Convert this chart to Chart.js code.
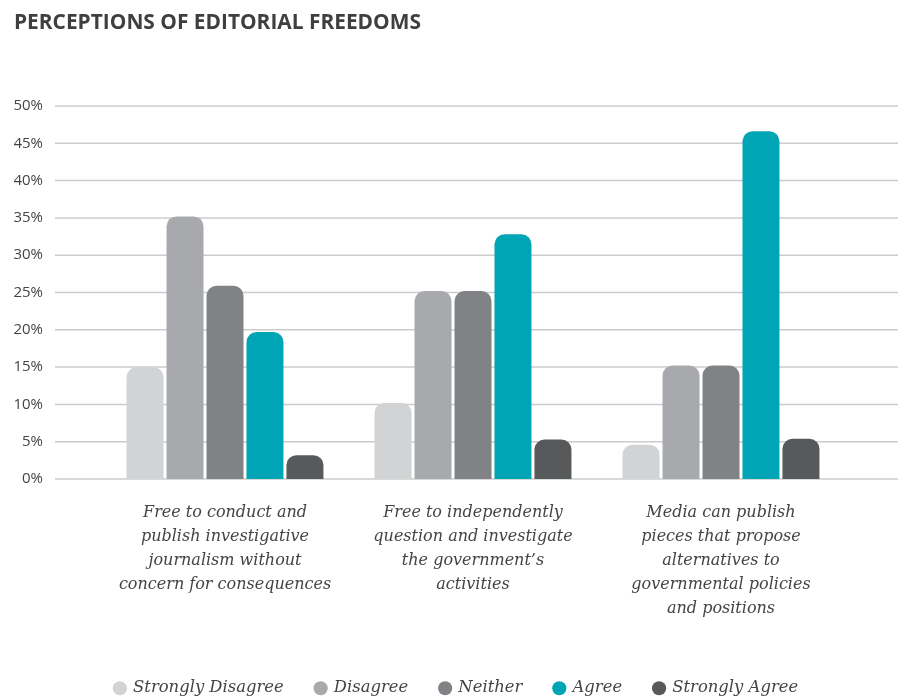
<!DOCTYPE html>
<html>
<head>
<meta charset="utf-8">
<script src="https://cdn.jsdelivr.net/npm/chart.js@4/dist/chart.umd.min.js"></script>
<style>
  html, body { margin: 0; padding: 0; background: #fff; }
  canvas { display: block; }
</style>
</head>
<body>
<canvas id="freedomChart" width="899" height="697"></canvas>
<script>
const categories = [
  ['Free to conduct and', 'publish investigative', 'journalism without', 'concern for consequences'],
  ['Free to independently', 'question and investigate', 'the government\u2019s', 'activities'],
  ['Media can publish', 'pieces that propose', 'alternatives to', 'governmental policies', 'and positions']
];
const seriesNames = ['Strongly Disagree', 'Disagree', 'Neither', 'Agree', 'Strongly Agree'];
const seriesColors = ['#d1d3d4', '#a7a9ac', '#808285', '#00a5b5', '#58595b'];

const stronglyDisagree = [15, 10.2, 4.6];
const disagree = [35.2, 25.2, 15.2];
const neither = [25.9, 25.2, 15.2];
const agree = [19.7, 32.8, 46.6];
const stronglyAgree = [3.2, 5.3, 5.4];

const yTicks = [0, 5, 10, 15, 20, 25, 30, 35, 40, 45, 50];

const seriesValues = [stronglyDisagree, disagree, neither, agree, stronglyAgree];

// horizontal rules run wider than the plot area in the original
const wideGrid = {
  id: 'wideGrid',
  beforeDatasetsDraw(chart) {
    const { ctx, scales: { y } } = chart;
    ctx.save();
    ctx.strokeStyle = '#cbcccd';
    ctx.lineWidth = 1.5;
    y.ticks.forEach(t => {
      const py = y.getPixelForValue(t.value);
      ctx.beginPath();
      ctx.moveTo(55, py);
      ctx.lineTo(898, py);
      ctx.stroke();
    });
    ctx.restore();
  }
};

// legend padding also spaces the items, so trim the box height afterwards
const legendHeight = {
  id: 'legendHeight',
  afterInit(chart) {
    const lg = chart.legend;
    if (!lg) return;
    const fit = lg.fit.bind(lg);
    lg.fit = function () {
      fit();
      this.height = 49;
    };
  }
};

const ctx = document.getElementById('freedomChart').getContext('2d');
new Chart(ctx, {
  type: 'bar',
  data: {
    labels: categories,
    datasets: seriesNames.map((name, i) => ({
      label: name,
      data: seriesValues[i],
      backgroundColor: seriesColors[i],
      borderRadius: 10,
      borderSkipped: 'start',
      barPercentage: 0.925,
      categoryPercentage: 0.806
    }))
  },
  options: {
    responsive: false,
    animation: false,
    layout: { padding: { left: 14, right: 0, top: 8, bottom: 0 } },
    plugins: {
      title: {
        display: true,
        text: 'PERCEPTIONS OF EDITORIAL FREEDOMS',
        align: 'start',
        color: '#3f3f41',
        font: { family: 'Open Sans', size: 20.9, weight: 'bold', lineHeight: 1.2 },
        padding: { top: 3, bottom: 69.9 }
      },
      legend: {
        position: 'bottom',
        labels: {
          usePointStyle: true,
          pointStyle: 'circle',
          boxWidth: 10,
          boxHeight: 10,
          padding: 32,
          color: '#444',
          font: { family: 'DejaVu Serif', style: 'italic', size: 16.4 }
        }
      },
      tooltip: { enabled: false }
    },
    scales: {
      x: {
        grid: { display: false, drawTicks: false },
        border: { display: false },
        ticks: {
          color: '#444',
          padding: 22,
          font: { family: 'DejaVu Serif', style: 'italic', size: 16, lineHeight: 1.5 },
          maxRotation: 0
        },
        afterFit(scale) { scale.height = 169; }
      },
      y: {
        min: 0,
        max: 50,
        afterBuildTicks(scale) { scale.ticks = yTicks.map(v => ({ value: v })); },
        grid: { display: false, drawTicks: false },
        border: { display: false },
        ticks: {
          color: '#444',
          padding: 58,
          font: { family: 'Open Sans', size: 15 },
          callback: v => v + '%'
        },
        afterFit(scale) { scale.width = 87; }
      },
      yRight: {
        position: 'right',
        grid: { display: false, drawTicks: false },
        border: { display: false },
        ticks: { display: false },
        afterFit(scale) { scale.width = 54; }
      }
    }
  },
  plugins: [wideGrid, legendHeight]
});
</script>
</body>
</html>
